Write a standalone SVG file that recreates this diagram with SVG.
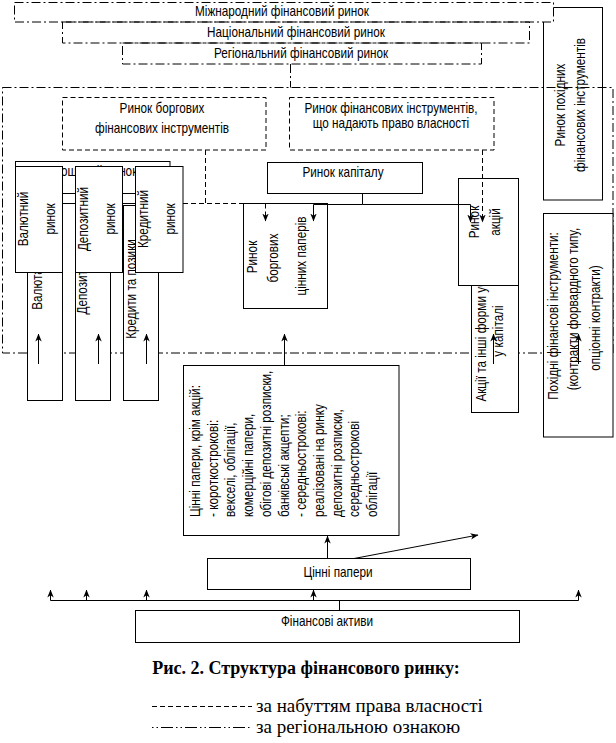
<svg xmlns="http://www.w3.org/2000/svg" width="616" height="743" viewBox="0 0 616 743">
<defs>
<style>
.t{font-family:"Liberation Sans",Arial,sans-serif;font-size:14px;fill:#000}
.m{text-anchor:middle}
.b{fill:#fff;stroke:#000;stroke-width:1}
.n{fill:none;stroke:#000;stroke-width:1}
.dd{fill:none;stroke:#000;stroke-width:1;stroke-dasharray:9 3 2 3}
.ddw{fill:#fff;stroke:#000;stroke-width:1;stroke-dasharray:9 3 2 3}
.ds{fill:none;stroke:#000;stroke-width:1;stroke-dasharray:5 3}
.ln{fill:none;stroke:#000;stroke-width:1}
.ar{fill:none;stroke:#000;stroke-width:1;marker-end:url(#ah)}
.ard{fill:none;stroke:#000;stroke-width:1;stroke-dasharray:5 3;marker-end:url(#ah)}
.cap{font-family:"Liberation Serif","Times New Roman",serif;font-size:18px;font-weight:bold;fill:#000}
.lg{font-family:"Liberation Serif","Times New Roman",serif;font-size:19px;fill:#000}
</style>
<marker id="ah" viewBox="0 0 8 8" markerWidth="8" markerHeight="8" refX="7.5" refY="4" orient="auto" markerUnits="userSpaceOnUse"><path d="M0,0.8 L8,4 L0,7.2 L2.2,4 Z" fill="#000" stroke="none"/></marker>
</defs>
<rect width="616" height="743" fill="#fff"/>

<g id="regional-area">
<rect class="dd" x="2.5" y="87.5" width="610.5" height="265.5"/>
</g>

<g id="rynok-pokhidnykh">
<rect class="n" x="543.5" y="7.5" width="59" height="192.5"/>
<text class="t m" transform="translate(565,105) rotate(-90) scale(.84,1)">Ринок похідних</text>
<text class="t m" transform="translate(585,105) rotate(-90) scale(.84,1)">фінансових інструментів</text>
</g>

<g id="mizhnarodnyi">
<rect class="ddw" x="14.5" y="2.5" width="539" height="19.5"/>
<text class="t m" transform="translate(282,16) scale(.84,1)">Міжнародний фінансовий ринок</text>
</g>
<g id="natsionalnyi">
<rect class="dd" x="62.5" y="22" width="467" height="21"/>
<text class="t m" transform="translate(296,37) scale(.84,1)">Національний фінансовий ринок</text>
</g>
<g id="rehionalnyi">
<rect class="dd" x="122.5" y="43" width="359" height="21"/>
<text class="t m" transform="translate(301,58) scale(.84,1)">Регіональний фінансовий ринок</text>
</g>

<g id="rynok-borhovykh-instrumentiv">
<rect class="ds" x="62.5" y="97.5" width="203.5" height="52.5"/>
<text class="t m" transform="translate(162,113) scale(.84,1)">Ринок боргових</text>
<text class="t m" transform="translate(162,133) scale(.84,1)">фінансових інструментів</text>
</g>
<g id="rynok-prava-vlasnosti">
<rect class="ds" x="289.5" y="97.5" width="204.5" height="52.5"/>
<text class="t m" transform="translate(391,113) scale(.84,1)">Ринок фінансових інструментів,</text>
<text class="t m" transform="translate(391,128) scale(.84,1)">що надають право власності</text>
</g>

<g id="hroshovyi-rynok">
<rect class="b" x="15.5" y="161.5" width="154.5" height="42"/>
<line class="ln" x1="15.5" y1="193.5" x2="170" y2="193.5"/>
<text class="t m" transform="translate(93,176) scale(.84,1)">Грошовий ринок</text>
</g>

<g id="valiuta">
<rect class="b" x="27.5" y="205.5" width="35" height="195"/>
<text class="t m" transform="translate(42,289) rotate(-90) scale(.84,1)">Валюта</text>
</g>
<g id="depozyty">
<rect class="b" x="75.5" y="205.5" width="35" height="195"/>
<text class="t m" transform="translate(87,289) rotate(-90) scale(.84,1)">Депозити</text>
</g>
<g id="kredyty-ta-pozyky">
<rect class="b" x="123.5" y="205.5" width="35" height="195"/>
<text class="t m" transform="translate(136,289) rotate(-90) scale(.84,1)">Кредити та позики</text>
</g>

<g id="valiutnyi-rynok">
<rect class="b" x="15.5" y="166.5" width="47" height="106"/>
<text class="t m" transform="translate(28,219) rotate(-90) scale(.84,1)">Валютний</text>
<text class="t m" transform="translate(55,219) rotate(-90) scale(.84,1)">ринок</text>
</g>
<g id="depozytnyi-rynok">
<rect class="b" x="75.5" y="166.5" width="47" height="106"/>
<text class="t m" transform="translate(88,219) rotate(-90) scale(.84,1)">Депозитний</text>
<text class="t m" transform="translate(115,219) rotate(-90) scale(.84,1)">ринок</text>
</g>
<g id="kredytnyi-rynok">
<rect class="b" x="135.5" y="166.5" width="47.5" height="106"/>
<text class="t m" transform="translate(148,219) rotate(-90) scale(.84,1)">Кредитний</text>
<text class="t m" transform="translate(175,219) rotate(-90) scale(.84,1)">ринок</text>
</g>

<g id="rynok-kapitalu">
<rect class="b" x="267.5" y="162.5" width="155" height="31"/>
<text class="t m" transform="translate(343,177) scale(.84,1)">Ринок капіталу</text>
</g>

<g id="rynok-borhovykh-paperiv">
<rect class="b" x="243.5" y="203.5" width="84" height="105"/>
<text class="t m" transform="translate(257,257) rotate(-90) scale(.84,1)">Ринок</text>
<text class="t m" transform="translate(278,258) rotate(-90) scale(.84,1)">боргових</text>
<text class="t m" transform="translate(306,256) rotate(-90) scale(.84,1)">цінних паперів</text>
</g>

<g id="aktsii-formy-uchasti">
<rect class="b" x="471.5" y="250.5" width="47" height="162"/>
<text class="t m" transform="translate(486,331) rotate(-90) scale(.84,1)">Акції та інші форми участі</text>
<text class="t m" transform="translate(503,331) rotate(-90) scale(.84,1)">у капіталі</text>
</g>
<g id="rynok-aktsii">
<rect class="b" x="458.5" y="178.5" width="60" height="107"/>
<text class="t m" transform="translate(479,222) rotate(-90) scale(.84,1)">Ринок</text>
<text class="t m" transform="translate(500,222) rotate(-90) scale(.84,1)">акцій</text>
</g>

<g id="pokhidni-instrumenty">
<rect class="b" x="543.5" y="213.5" width="69.5" height="223.5"/>
<text class="t m" transform="translate(558,316) rotate(-90) scale(.84,1)">Похідні фінансові інструменти:</text>
<text class="t m" transform="translate(578,309) rotate(-90) scale(.84,1)">(контракти форвардного типу,</text>
<text class="t m" transform="translate(600,318) rotate(-90) scale(.84,1)">опціонні контракти)</text>
</g>

<g id="tsinni-papery-krim-aktsii">
<rect class="b" x="183.5" y="365.5" width="215.5" height="170"/>
<g class="t">
<text transform="translate(200,517) rotate(-90) scale(.84,1)">Цінні папери, крім акцій:</text>
<text transform="translate(217.7,517) rotate(-90) scale(.84,1)">- короткострокові:</text>
<text transform="translate(235.4,517) rotate(-90) scale(.84,1)">векселі, облігації,</text>
<text transform="translate(253.1,517) rotate(-90) scale(.84,1)">комерційні папери,</text>
<text transform="translate(270.8,517) rotate(-90) scale(.84,1)">обігові депозитні розписки,</text>
<text transform="translate(288.5,517) rotate(-90) scale(.84,1)">банківські акцепти;</text>
<text transform="translate(306.2,517) rotate(-90) scale(.84,1)">- середньострокові:</text>
<text transform="translate(323.9,517) rotate(-90) scale(.84,1)">реалізовані на ринку</text>
<text transform="translate(341.6,517) rotate(-90) scale(.84,1)">депозитні розписки,</text>
<text transform="translate(359.3,517) rotate(-90) scale(.84,1)">середньострокові</text>
<text transform="translate(377,517) rotate(-90) scale(.84,1)">облігації</text>
</g>
</g>

<g id="tsinni-papery">
<rect class="b" x="207.5" y="558.5" width="263" height="31"/>
<text class="t m" transform="translate(338,577) scale(.84,1)">Цінні папери</text>
</g>

<g id="finansovi-aktyvy">
<rect class="b" x="135.5" y="610.5" width="384" height="32"/>
<text class="t m" transform="translate(327,626) scale(.84,1)">Фінансові активи</text>
</g>

<g id="connectors">
<line class="dd" x1="290.5" y1="64" x2="290.5" y2="87.5"/>
<path class="ds" d="M205.5,150 V203.5 M183,203.5 H265.5"/>
<path class="ard" d="M265.5,203.5 V221"/>
<path class="ard" d="M482.5,150 V222"/>
<path class="ln" d="M362.5,193 V204.5 H470.5"/>
<path class="ar" d="M313.5,204.5 V221"/>
<path class="ln" d="M313.5,204.5 H362.5"/>
<path class="ar" d="M470.5,204.5 V222"/>
<path class="ar" d="M38.5,364 V334"/>
<path class="ar" d="M98.5,364 V334"/>
<path class="ar" d="M146.5,364 V334"/>
<path class="ar" d="M284.5,365 V334"/>
<path class="ar" d="M493.5,364 V334"/>
<path class="ar" d="M578.5,364 V334"/>
<line class="ln" x1="50.5" y1="600.5" x2="578.5" y2="600.5"/>
<line class="ln" x1="339.5" y1="610.5" x2="339.5" y2="600.5"/>
<path class="ar" d="M50.5,600.5 V590"/>
<path class="ar" d="M86.5,600.5 V590"/>
<path class="ar" d="M146.5,600.5 V590"/>
<path class="ar" d="M313.5,600.5 V590"/>
<path class="ar" d="M578.5,600.5 V590"/>
<path class="ar" d="M327.5,558.5 V536"/>
<path class="ar" d="M354,558.5 L478,535"/>
</g>

<g id="caption">
<text class="cap m" x="306" y="674">Рис. 2. Структура фінансового ринку:</text>
<line class="ds" x1="152" y1="706.5" x2="252" y2="706.5"/>
<text class="lg" x="256" y="712">за набуттям права власності</text>
<line style="fill:none;stroke:#000;stroke-width:1;stroke-dasharray:1.5 3 1.5 3 12 3" x1="152" y1="727.5" x2="252" y2="727.5"/>
<text class="lg" x="256" y="733">за регіональною ознакою</text>
</g>
</svg>
